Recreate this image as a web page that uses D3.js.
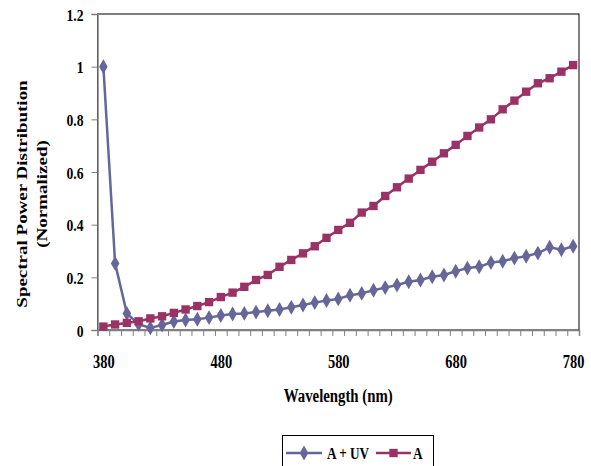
<!DOCTYPE html>
<html>
<head>
<meta charset="utf-8">
<script src="https://cdn.jsdelivr.net/npm/d3@7"></script>
<style>
  html, body { margin: 0; padding: 0; background: #fff; }
  svg { display: block; }
  text { font-family: "Liberation Serif", "Times New Roman", serif; font-weight: bold; fill: #000; }
</style>
</head>
<body>
<svg id="chart" width="591" height="466"></svg>
<script>
// Wavelength categories (nm)
const wavelengths = [380, 390, 400, 410, 420, 430, 440, 450, 460, 470,
                     480, 490, 500, 510, 520, 530, 540, 550, 560, 570,
                     580, 590, 600, 610, 620, 630, 640, 650, 660, 670,
                     680, 690, 700, 710, 720, 730, 740, 750, 760, 770, 780];

// Normalized spectral power, source A plus UV
const aPlusUV = [1.000, 0.253, 0.063, 0.022, 0.008, 0.019, 0.032, 0.038, 0.041, 0.047,
                 0.055, 0.061, 0.063, 0.068, 0.073, 0.078, 0.086, 0.095, 0.104, 0.112,
                 0.118, 0.132, 0.139, 0.151, 0.161, 0.171, 0.183, 0.190, 0.202, 0.209,
                 0.223, 0.235, 0.240, 0.256, 0.261, 0.273, 0.280, 0.292, 0.314, 0.305, 0.318];

// Normalized spectral power, source A
const aOnly = [0.013, 0.021, 0.027, 0.033, 0.044, 0.052, 0.065, 0.078, 0.091, 0.106,
               0.125, 0.142, 0.164, 0.190, 0.209, 0.240, 0.266, 0.291, 0.318, 0.350,
               0.380, 0.407, 0.446, 0.471, 0.509, 0.542, 0.575, 0.608, 0.639, 0.671,
               0.703, 0.737, 0.769, 0.800, 0.838, 0.871, 0.905, 0.937, 0.956, 0.981, 1.006];

const xTickLabels = [380, 480, 580, 680, 780];
const yTickValues = [0, 0.2, 0.4, 0.6, 0.8, 1.0, 1.2];

const seriesNames = ["A + UV", "A"];
const seriesColors = ["#666699", "#993366"];

const svg = d3.select("#chart");
const plot = { left: 97.5, right: 579, top: 14, bottom: 330 };
const squeeze = 0.78; // narrow glyph width for all labels

// Category axis: each wavelength sits in the middle of a 10 nm slot
const step = wavelengths[1] - wavelengths[0];
const x = d3.scaleLinear()
  .domain([wavelengths[0] - step / 2, wavelengths[wavelengths.length - 1] + step / 2])
  .range([plot.left, plot.right]);
const y = d3.scaleLinear().domain([0, 1.2]).range([plot.bottom, plot.top]);

// Plot area frame
svg.append("rect")
  .attr("x", plot.left).attr("y", plot.top)
  .attr("width", plot.right - plot.left).attr("height", plot.bottom - plot.top)
  .attr("fill", "none").attr("stroke", "#000").attr("stroke-width", 1);

// Slot boundary ticks along the bottom
const boundaries = wavelengths.map(w => w - step / 2).concat([wavelengths[wavelengths.length - 1] + step / 2]);
const xTickAxis = svg.append("g")
  .attr("transform", `translate(0,${plot.bottom})`)
  .call(d3.axisBottom(x).tickValues(boundaries).tickSize(6).tickFormat(""));
xTickAxis.select(".domain").attr("stroke", "#808080").attr("stroke-width", 1.5);
xTickAxis.selectAll(".tick line").attr("stroke", "#808080").attr("stroke-width", 1);

// Wavelength labels
const xLabelAxis = svg.append("g")
  .attr("transform", `translate(0,${plot.bottom})`)
  .call(d3.axisBottom(x).tickValues(xTickLabels).tickSize(0).tickPadding(0).tickFormat(d3.format("d")));
xLabelAxis.select(".domain").remove();
xLabelAxis.selectAll(".tick text")
  .attr("y", 0).attr("dy", 0)
  .attr("transform", `translate(0,38) scale(${squeeze},1)`)
  .style("font-size", "18.5px").style("font-family", null);

// Value axis
const yAxis = svg.append("g")
  .attr("transform", `translate(${plot.left},0)`)
  .call(d3.axisLeft(y).tickValues(yTickValues).tickSize(6).tickFormat(d3.format("~g")));
yAxis.select(".domain").attr("stroke", "#808080").attr("stroke-width", 1.5);
yAxis.selectAll(".tick line").attr("stroke", "#808080").attr("stroke-width", 1);
yAxis.selectAll(".tick text")
  .attr("x", 0).attr("dy", 0)
  .attr("transform", `translate(-14,6) scale(${squeeze},1)`)
  .style("font-size", "17.5px").style("font-family", null);

// Axis titles
svg.append("text")
  .attr("transform", `translate(${(plot.left + plot.right) / 2},402) scale(${squeeze},1)`)
  .attr("text-anchor", "middle")
  .style("font-size", "19px")
  .text("Wavelength (nm)");

svg.append("text")
  .attr("transform", `translate(27,${(plot.top + plot.bottom) / 2 + 22}) scale(${squeeze},1) rotate(-90)`)
  .attr("text-anchor", "middle")
  .style("font-size", "19px")
  .text("Spectral Power Distribution");

svg.append("text")
  .attr("transform", `translate(47,${(plot.top + plot.bottom) / 2 + 22}) scale(${squeeze},1) rotate(-90)`)
  .attr("text-anchor", "middle")
  .style("font-size", "19px")
  .text("(Normalized)");

// Series
const series = [aPlusUV, aOnly];
const line = d3.line().x((d, i) => x(wavelengths[i])).y(d => y(d));
const diamond = d3.symbol().type(d3.symbolDiamond).size(64);
const square = d3.symbol().type(d3.symbolSquare).size(70);
const markers = [diamond, square];

series.forEach((vals, s) => {
  const g = svg.append("g");
  g.append("path")
    .datum(vals)
    .attr("d", line)
    .attr("fill", "none")
    .attr("stroke", seriesColors[s])
    .attr("stroke-width", 2.5)
    .attr("stroke-linejoin", "round");
  g.selectAll("path.marker")
    .data(vals)
    .join("path")
    .attr("class", "marker")
    .attr("transform", (d, i) => `translate(${x(wavelengths[i])},${y(d)})`)
    .attr("d", markers[s]())
    .attr("fill", seriesColors[s]);
});

// Legend
const legend = svg.append("g");
legend.append("rect")
  .attr("x", 282.5).attr("y", 435.5).attr("width", 151).attr("height", 45)
  .attr("fill", "#fff").attr("stroke", "#000").attr("stroke-width", 1);

const legendItems = [
  { x0: 286, x1: 322, tx: 327 },
  { x0: 376, x1: 411, tx: 413 }
];
legendItems.forEach((it, s) => {
  const ly = 453;
  legend.append("line")
    .attr("x1", it.x0).attr("x2", it.x1).attr("y1", ly).attr("y2", ly)
    .attr("stroke", seriesColors[s]).attr("stroke-width", 2.5);
  legend.append("path")
    .attr("transform", `translate(${(it.x0 + it.x1) / 2},${ly})`)
    .attr("d", markers[s]())
    .attr("fill", seriesColors[s]);
  legend.append("text")
    .attr("transform", `translate(${it.tx},${ly + 6}) scale(${squeeze},1)`)
    .style("font-size", "17px")
    .text(seriesNames[s]);
});
</script>
</body>
</html>
